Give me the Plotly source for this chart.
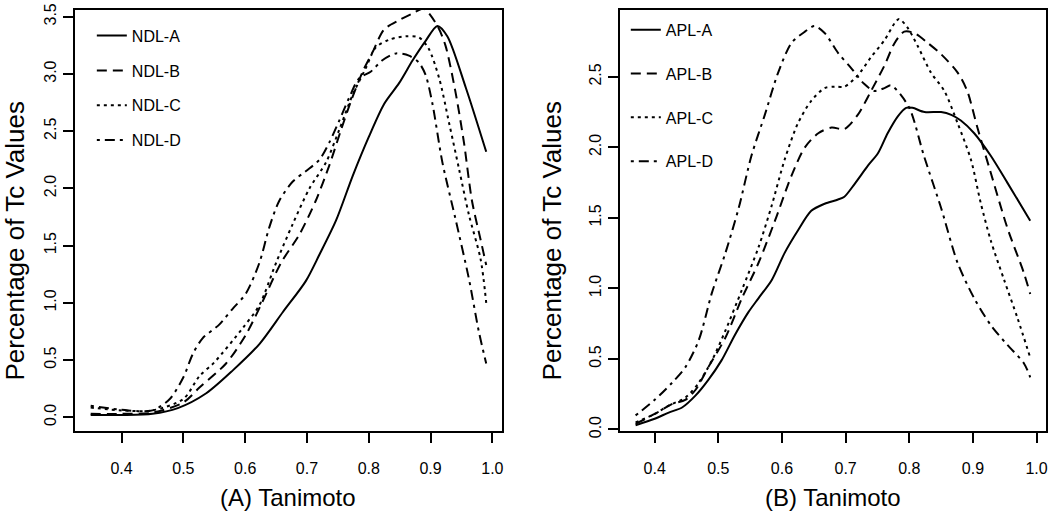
import plotly.graph_objects as go

# ---------------- data ----------------
ndl_a_x = [0.35, 0.40, 0.45, 0.491, 0.537, 0.58, 0.623, 0.661, 0.698, 0.72, 0.747, 0.774, 0.80, 0.825, 0.849, 0.871, 0.892, 0.911, 0.927, 0.957, 0.99]
ndl_a_y = [0.02, 0.02, 0.03, 0.08, 0.21, 0.41, 0.64, 0.92, 1.19, 1.42, 1.72, 2.11, 2.45, 2.74, 2.92, 3.12, 3.29, 3.42, 3.33, 2.88, 2.32]

ndl_b_x = [0.35, 0.40, 0.45, 0.50, 0.526, 0.569, 0.601, 0.628, 0.658, 0.688, 0.714, 0.736, 0.755, 0.771, 0.79, 0.806, 0.825, 0.849, 0.871, 0.889, 0.911, 0.924, 0.94, 0.954, 0.967, 0.981, 0.99]
ndl_b_y = [0.03, 0.03, 0.04, 0.13, 0.26, 0.47, 0.72, 1.01, 1.35, 1.60, 1.89, 2.20, 2.51, 2.76, 3.02, 3.19, 3.39, 3.47, 3.53, 3.57, 3.42, 3.25, 2.85, 2.40, 1.89, 1.55, 1.33]

ndl_c_x = [0.35, 0.40, 0.45, 0.50, 0.526, 0.55, 0.596, 0.623, 0.65, 0.677, 0.704, 0.731, 0.752, 0.774, 0.795, 0.811, 0.833, 0.86, 0.881, 0.897, 0.914, 0.93, 0.946, 0.962, 0.981, 0.99]
ndl_c_y = [0.085, 0.06, 0.06, 0.16, 0.36, 0.48, 0.78, 0.98, 1.35, 1.69, 2.00, 2.23, 2.51, 2.82, 3.05, 3.23, 3.30, 3.33, 3.32, 3.22, 2.96, 2.57, 2.17, 1.77, 1.38, 1.00]

ndl_d_x = [0.35, 0.41, 0.45, 0.478, 0.50, 0.515, 0.531, 0.558, 0.58, 0.601, 0.623, 0.639, 0.655, 0.677, 0.698, 0.72, 0.736, 0.752, 0.768, 0.784, 0.803, 0.822, 0.844, 0.865, 0.881, 0.892, 0.903, 0.919, 0.94, 0.962, 0.978, 0.99]
ndl_d_y = [0.10, 0.06, 0.06, 0.16, 0.35, 0.55, 0.69, 0.81, 0.95, 1.08, 1.35, 1.66, 1.89, 2.06, 2.15, 2.25, 2.40, 2.59, 2.79, 2.96, 3.02, 3.12, 3.18, 3.16, 3.10, 2.99, 2.74, 2.23, 1.74, 1.21, 0.75, 0.47]

apl_a_x = [0.37, 0.40, 0.422, 0.443, 0.464, 0.484, 0.505, 0.526, 0.547, 0.563, 0.584, 0.604, 0.625, 0.646, 0.667, 0.688, 0.698, 0.714, 0.735, 0.751, 0.766, 0.782, 0.795, 0.805, 0.824, 0.85, 0.866, 0.881, 0.902, 0.928, 0.954, 0.99]
apl_a_y = [0.03, 0.076, 0.12, 0.156, 0.24, 0.35, 0.49, 0.67, 0.83, 0.93, 1.06, 1.25, 1.41, 1.55, 1.60, 1.63, 1.65, 1.74, 1.87, 1.96, 2.10, 2.22, 2.28, 2.28, 2.25, 2.25, 2.23, 2.19, 2.10, 1.94, 1.75, 1.48]

apl_b_x = [0.37, 0.40, 0.427, 0.448, 0.464, 0.484, 0.511, 0.537, 0.563, 0.589, 0.615, 0.636, 0.657, 0.678, 0.698, 0.719, 0.74, 0.761, 0.777, 0.792, 0.808, 0.829, 0.85, 0.876, 0.891, 0.907, 0.928, 0.954, 0.98, 0.99]
apl_b_y = [0.04, 0.11, 0.18, 0.21, 0.28, 0.44, 0.65, 0.93, 1.18, 1.48, 1.80, 2.00, 2.10, 2.14, 2.13, 2.23, 2.40, 2.58, 2.74, 2.82, 2.81, 2.74, 2.66, 2.53, 2.40, 2.14, 1.82, 1.43, 1.11, 0.96]

apl_c_x = [0.37, 0.40, 0.422, 0.448, 0.469, 0.49, 0.511, 0.537, 0.563, 0.584, 0.604, 0.625, 0.646, 0.667, 0.683, 0.698, 0.719, 0.74, 0.761, 0.777, 0.784, 0.797, 0.813, 0.834, 0.855, 0.876, 0.897, 0.912, 0.928, 0.949, 0.97, 0.99]
apl_c_y = [0.05, 0.11, 0.17, 0.225, 0.33, 0.49, 0.70, 0.99, 1.29, 1.59, 1.91, 2.17, 2.33, 2.42, 2.43, 2.43, 2.51, 2.64, 2.76, 2.88, 2.91, 2.85, 2.72, 2.53, 2.40, 2.17, 1.91, 1.61, 1.34, 1.06, 0.79, 0.51]

apl_d_x = [0.37, 0.40, 0.427, 0.448, 0.469, 0.49, 0.511, 0.532, 0.552, 0.573, 0.594, 0.615, 0.636, 0.651, 0.667, 0.688, 0.709, 0.729, 0.745, 0.761, 0.771, 0.787, 0.802, 0.823, 0.85, 0.876, 0.902, 0.928, 0.954, 0.98, 0.99]
apl_d_y = [0.10, 0.21, 0.33, 0.44, 0.63, 0.97, 1.25, 1.57, 1.94, 2.23, 2.53, 2.74, 2.82, 2.86, 2.81, 2.67, 2.56, 2.45, 2.40, 2.42, 2.44, 2.37, 2.26, 1.94, 1.57, 1.18, 0.93, 0.74, 0.60, 0.47, 0.37]

ndl_names = ["NDL-A", "NDL-B", "NDL-C", "NDL-D"]
apl_names = ["APL-A", "APL-B", "APL-C", "APL-D"]
x_ticks = [0.4, 0.5, 0.6, 0.7, 0.8, 0.9, 1.0]
y_ticks_left = [0.0, 0.5, 1.0, 1.5, 2.0, 2.5, 3.0, 3.5]
y_ticks_right = [0.0, 0.5, 1.0, 1.5, 2.0, 2.5]
x_title_left = "(A) Tanimoto"
x_title_right = "(B) Tanimoto"
y_title = "Percentage of Tc Values"

# ---------------- styling ----------------
W, H = 1050, 517
FONT = "Liberation Sans, Arial, Helvetica, sans-serif"
dashes = ["solid", "10px,6px", "3px,4px", "3px,5px,10px,5px"]
LW = 2

fig = go.Figure()
ndl = [(ndl_a_x, ndl_a_y), (ndl_b_x, ndl_b_y), (ndl_c_x, ndl_c_y), (ndl_d_x, ndl_d_y)]
apl = [(apl_a_x, apl_a_y), (apl_b_x, apl_b_y), (apl_c_x, apl_c_y), (apl_d_x, apl_d_y)]

for i, ((xs, ys), name) in enumerate(zip(ndl, ndl_names)):
    fig.add_trace(go.Scatter(x=xs, y=ys, mode="lines", name=name,
                             line=dict(color="black", width=LW, dash=dashes[i], shape="spline", smoothing=0.8),
                             xaxis="x", yaxis="y", legend="legend", legendgroup="n" + str(i)))
for i, ((xs, ys), name) in enumerate(zip(apl, apl_names)):
    fig.add_trace(go.Scatter(x=xs, y=ys, mode="lines", name=name,
                             line=dict(color="black", width=LW, dash=dashes[i], shape="spline", smoothing=0.8),
                             xaxis="x2", yaxis="y2", legend="legend2", legendgroup="a" + str(i)))

ydom = [1 - 436 / H, 1 - 3 / H]
axis_common = dict(showline=True, linecolor="black", linewidth=2, mirror=True,
                   ticks="outside", ticklen=10, tickwidth=1.5, tickcolor="black",
                   showgrid=False, zeroline=False, tickformat=".1f",
                   ticklabeloverflow="allow",
                   tickfont=dict(family=FONT, size=16, color="black"))

fig.update_layout(
    width=W, height=H, margin=dict(l=0, r=0, t=0, b=0),
    paper_bgcolor="white", plot_bgcolor="white",
    font=dict(family=FONT, color="black"),
    xaxis=dict(domain=[75 / W, 503 / W], range=[0.3244, 1.0156], tickvals=x_ticks,
               anchor="y", ticklabelstandoff=12, **axis_common),
    yaxis=dict(domain=ydom, range=[-0.1216, 3.560], tickvals=y_ticks_left,
               anchor="x", tickangle=-90, ticklabelstandoff=0, **axis_common),
    xaxis2=dict(domain=[621 / W, 1048 / W], range=[0.3452, 1.0148], tickvals=x_ticks,
                anchor="y2", ticklabelstandoff=12, **axis_common),
    yaxis2=dict(domain=ydom, range=[-0.012, 2.974], tickvals=y_ticks_right,
                anchor="x2", tickangle=-90, ticklabelstandoff=0, **axis_common),
    legend=dict(x=92 / W, y=1 - 12 / H, xanchor="left", yanchor="top",
                bgcolor="rgba(0,0,0,0)", borderwidth=0, traceorder="grouped",
                tracegroupgap=11, font=dict(family=FONT, size=16, color="black")),
    legend2=dict(x=627 / W, y=1 - 6 / H, xanchor="left", yanchor="top",
                 bgcolor="rgba(0,0,0,0)", borderwidth=0, traceorder="grouped",
                 tracegroupgap=20, font=dict(family=FONT, size=16, color="black")),
    showlegend=True,
)

fig.add_annotation(x=289 / W, y=1 - 504 / H, xref="paper", yref="paper", text=x_title_left,
                   showarrow=False, font=dict(family=FONT, size=24, color="black"),
                   xanchor="center", yanchor="middle")
fig.add_annotation(x=834.5 / W, y=1 - 504 / H, xref="paper", yref="paper", text=x_title_right,
                   showarrow=False, font=dict(family=FONT, size=24, color="black"),
                   xanchor="center", yanchor="middle")
fig.add_annotation(x=15 / W, y=1 - 240 / H, xref="paper", yref="paper", text=y_title,
                   showarrow=False, textangle=-90, font=dict(family=FONT, size=26, color="black"),
                   xanchor="center", yanchor="middle")
fig.add_annotation(x=553 / W, y=1 - 240 / H, xref="paper", yref="paper", text=y_title,
                   showarrow=False, textangle=-90, font=dict(family=FONT, size=26, color="black"),
                   xanchor="center", yanchor="middle")

fig.write_html("out.html", config={"displayModeBar": False},
               post_script="document.body.style.margin='0';document.body.style.overflow='hidden';")
